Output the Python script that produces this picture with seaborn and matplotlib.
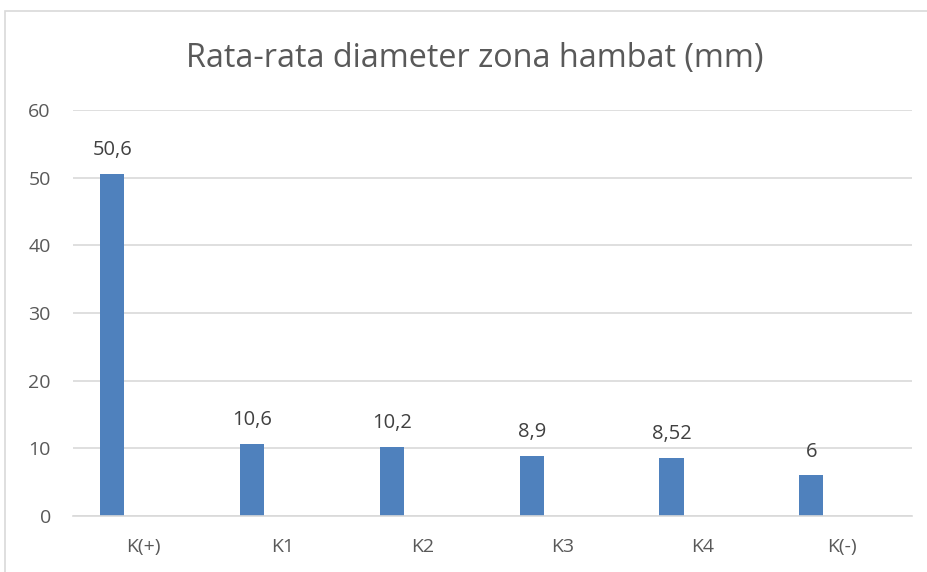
import matplotlib
matplotlib.use("Agg")
import matplotlib.pyplot as plt
import seaborn as sns
import pandas as pd

categories = ["K(+)", "K1", "K2", "K3", "K4", "K(-)"]
values = [50.6, 10.6, 10.2, 8.9, 8.52, 6]
value_labels = ["50,6", "10,6", "10,2", "8,9", "8,52", "6"]
title = "Rata-rata diameter zona hambat (mm)"
yticks = [0, 10, 20, 30, 40, 50, 60]

sns.set_theme(style="white")
plt.rcParams['font.family'] = ['Open Sans', 'DejaVu Sans']

df = pd.DataFrame({"cat": categories, "val": values})

fig = plt.figure(figsize=(9.28, 5.72), dpi=100)
ax = fig.add_axes([73/928, 1 - 516/572, (912-73)/928, (516-110)/572])

sns.barplot(data=df, x="cat", y="val", color="#4F81BD", saturation=1,
            width=0.172, ax=ax)

shift = -0.22
for p, lab, v in zip(ax.patches, value_labels, values):
    p.set_x(p.get_x() + shift)
    p.set_edgecolor("none")
    cx = p.get_x() + p.get_width() / 2
    ax.annotate(lab, (cx, v), xytext=(0, 10), textcoords="offset points",
                ha="center", va="bottom", fontsize=14.5, color="#404040")

ax.set_xlim(-0.5, len(categories) - 0.5)
ax.set_ylim(0, 60)
ax.set_yticks(yticks)
ax.set_yticklabels([str(t) for t in yticks])
ax.yaxis.grid(True, color="#D9D9D9", linewidth=1.2)
ax.set_axisbelow(True)
for s in ["top", "right", "left"]:
    ax.spines[s].set_visible(False)
ax.spines["bottom"].set_color("#D9D9D9")
ax.spines["bottom"].set_linewidth(1.2)
ax.tick_params(axis="both", length=0, labelsize=14, labelcolor="#595959")
ax.tick_params(axis="y", pad=16)
ax.tick_params(axis="x", pad=16)
ax.set_xlabel("")
ax.set_ylabel("")

fig.text(475/928, 1 - 59/572, title, ha="center", va="center",
         fontsize=23.3, color="#595959")

border = plt.Rectangle((5/928, -0.1), 1.2, 1 - 11/572 + 0.1,
                       transform=fig.transFigure, fill=False,
                       edgecolor="#D9D9D9", linewidth=1.2)
fig.patches.append(border)

fig.savefig("out.png", dpi=100)
